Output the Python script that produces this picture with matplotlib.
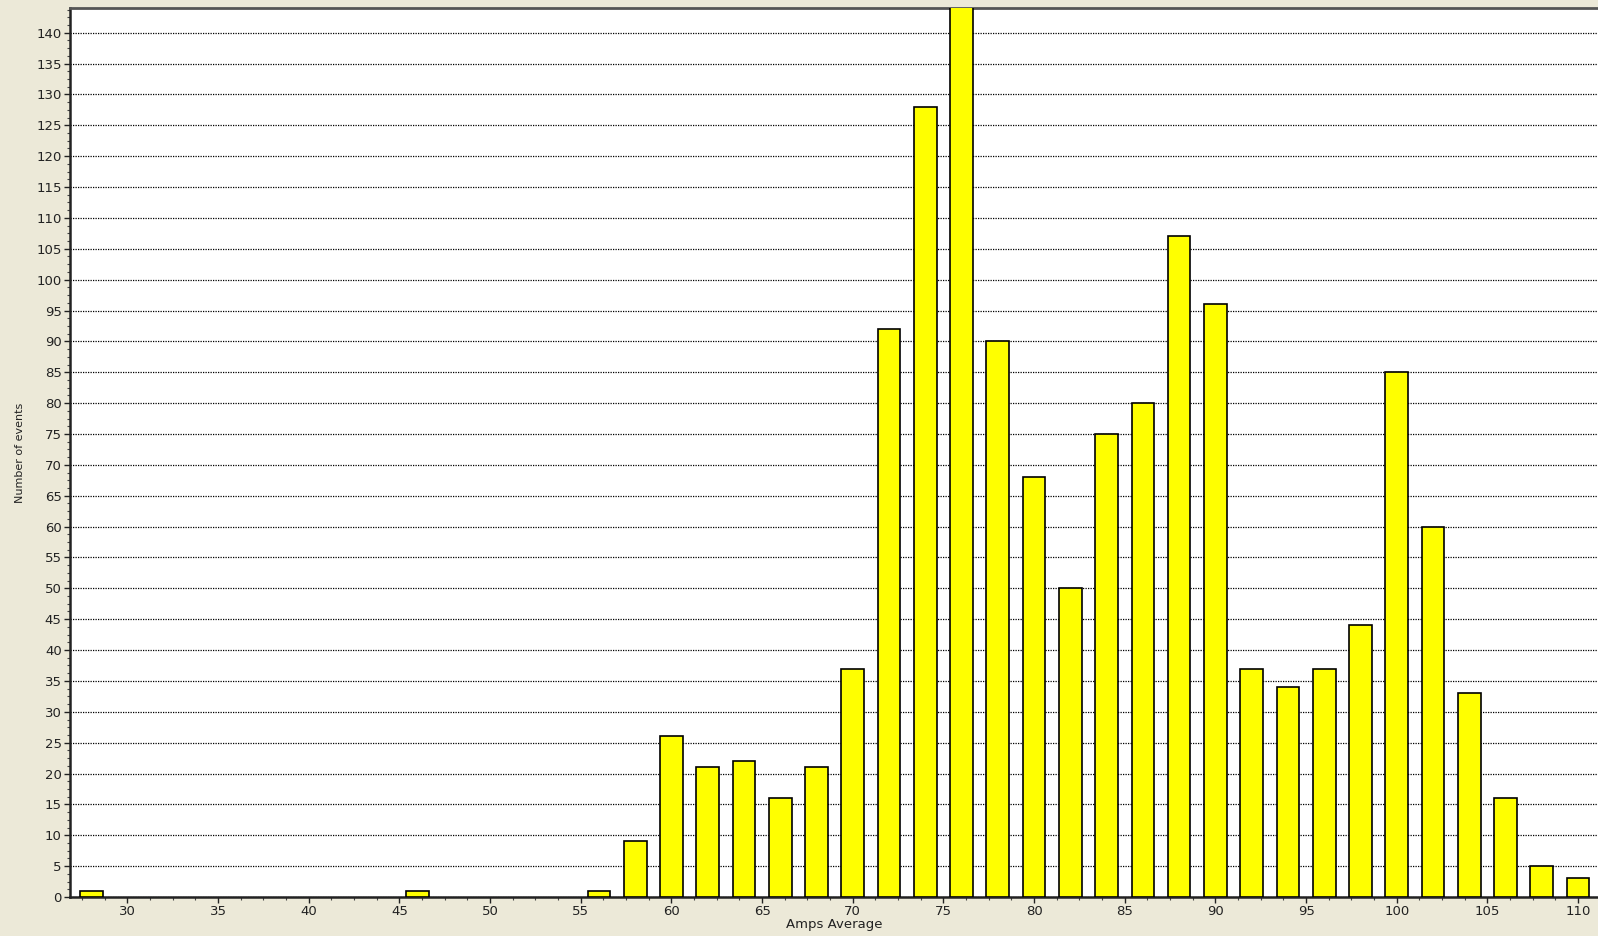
import matplotlib
matplotlib.use("Agg")
import matplotlib.pyplot as plt
from matplotlib.ticker import MultipleLocator

# histogram data
amps = [28, 46, 56, 58, 60, 62, 64, 66, 68, 70, 72, 74, 76, 78, 80, 82, 84,
        86, 88, 90, 92, 94, 96, 98, 100, 102, 104, 106, 108, 110]
events = [1, 1, 1, 9, 26, 21, 22, 16, 21, 37, 92, 128, 150, 90, 68, 50, 75,
          80, 107, 96, 37, 34, 37, 44, 85, 60, 33, 16, 5, 3]

x_ticks = list(range(30, 111, 5))
y_ticks = list(range(0, 141, 5))

bg = '#ECE9D8'
fig = plt.figure(figsize=(15.98, 9.36), dpi=100, facecolor=bg)
ax = fig.add_axes([70 / 1598, 1 - 897 / 936, 1 - 70 / 1598, (897 - 8) / 936])
ax.set_facecolor('white')

ax.bar(amps, events, width=1.25, color='#FFFF00', edgecolor='black',
       linewidth=1.2, zorder=3)

ax.set_xlim(26.83, 111.1)
ax.set_ylim(0, 144)
ax.set_xticks(x_ticks)
ax.set_yticks(y_ticks)
ax.xaxis.set_minor_locator(MultipleLocator(1.25))
ax.yaxis.set_minor_locator(MultipleLocator(1.25))

ax.yaxis.grid(True, which='major', color='black', linestyle=(0, (1, 1)),
              linewidth=0.9, zorder=1)
ax.set_axisbelow(True)

ax.tick_params(axis='both', which='major', direction='out', length=4,
               width=1, labelsize=9.5, colors='#222222', pad=2)
ax.tick_params(axis='both', which='minor', direction='out', length=2.5,
               width=0.8, colors='#444444')

for s in ['left', 'bottom']:
    ax.spines[s].set_linewidth(1.8)
    ax.spines[s].set_color('#222222')
ax.spines['top'].set_linewidth(2)
ax.spines['top'].set_color('#555555')
ax.spines['right'].set_visible(False)

ax.set_xlabel('Amps Average', fontsize=9.5, labelpad=0, color='#222222')
ax.set_ylabel('Number of events', fontsize=8, labelpad=8, color='#222222')

fig.savefig('out.png', dpi=100, facecolor=bg)
